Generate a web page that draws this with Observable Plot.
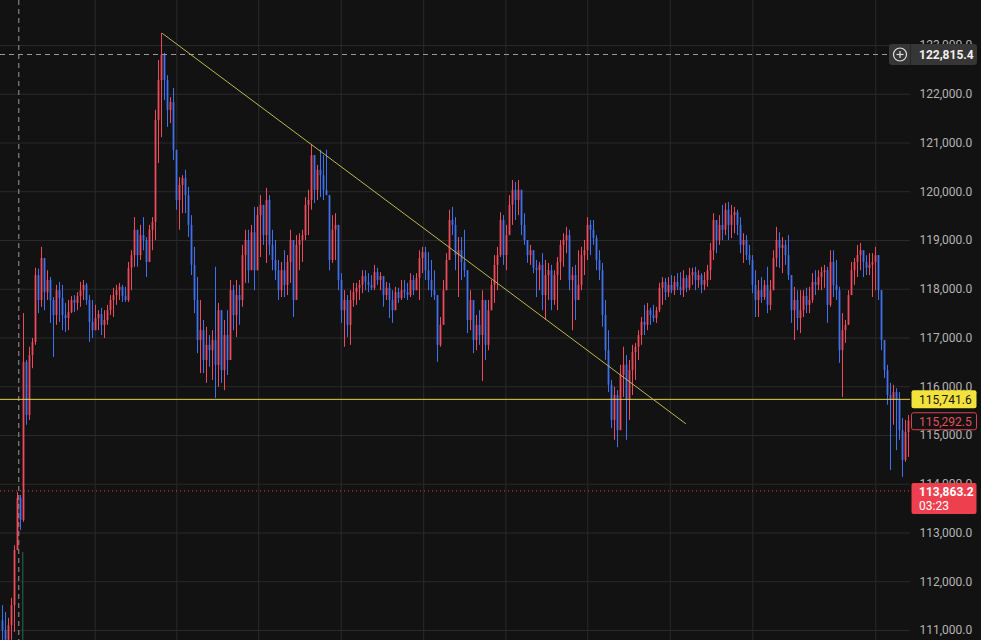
<!DOCTYPE html>
<html><head><meta charset="utf-8">
<script src="https://cdn.jsdelivr.net/npm/d3@7"></script>
<script src="https://cdn.jsdelivr.net/npm/@observablehq/plot@0.6"></script>
<style>html,body{margin:0;padding:0;background:#121212;overflow:hidden}</style>
</head><body><div id="chart"></div>
<script>
// ---- data (price bars, one per index) ----
const high = [
111510,111370,111250,111660,112740,113830,113770,117500,116540,116810,
116990,118430,118410,118860,118550,118380,118240,117830,118080,118140,
118080,117710,117770,117850,117870,117930,118140,118180,118120,117870,
117770,117670,117560,117610,117560,117670,117870,118020,118080,118120,
118080,118040,118550,118790,119470,119140,119310,119470,119060,119310,
119470,121670,122690,123250,122840,122380,121930,122120,120580,120290,
120330,120440,120090,119510,118860,118240,117770,117360,117220,117050,
117150,118450,117710,117560,117360,117560,118180,118080,118180,118080,
118900,119210,119210,119310,119680,119680,119920,119720,120070,119920,
119210,119000,118590,118550,118790,118690,119210,118730,119100,119140,
119210,119880,120030,120950,120740,120540,120850,120740,120850,119620,
119510,119550,119000,118320,117970,117870,117970,118120,118120,118180,
118380,118380,118320,118280,118490,118430,118340,118180,118140,118120,
117970,118040,118020,118180,118180,118120,118320,118280,118320,118790,
118860,118860,118750,118590,118380,117770,117420,118180,118730,119620,
119680,119470,119060,119060,119210,118180,117970,117560,117460,117560,
117970,117560,117770,118180,118690,118860,119570,119510,119310,119920,
120230,120190,120230,120030,119550,119000,118900,118650,118590,118550,
118730,118590,118530,118490,118380,118650,119000,119140,119270,119210,
118450,118490,118790,118860,119000,119470,119410,119410,119100,118790,
118530,117770,117150,116130,115990,115920,116440,116810,116640,116540,
116850,116890,117150,117420,117670,117710,117610,117670,117630,118120,
118240,118220,118240,118280,118260,118320,118340,118380,118280,118430,
118430,118450,118380,118320,118340,118490,118940,119550,119410,119510,
119720,119760,119780,119720,119680,119620,119470,119140,119100,118900,
118690,118380,118180,118240,118180,118450,118180,118790,119270,119160,
119060,119000,119100,118120,118040,117970,117970,117970,118020,118040,
118320,118380,118380,118450,118490,118450,118790,118790,118590,118040,
117500,117360,117970,118550,118630,118900,118940,118730,118690,118730,
118730,118860,118690,117970,116950,116440,116070,116030,115960,115880,
115350,115310,115410];
const low = [
110690,110690,110690,110800,110960,112950,113050,113220,115210,115310,
116370,116850,117500,117630,117560,117770,117300,116600,117260,117320,
117150,117110,117150,117500,117520,117560,117630,117770,117670,116910,
116990,117150,117150,117050,116990,117260,117460,117420,117670,117770,
117730,117730,117730,117970,118450,118450,118590,118790,118240,118550,
118790,119000,120580,121110,121870,121320,121400,120640,119620,119210,
119550,119550,119060,118280,117500,116680,116270,116270,116070,116400,
116130,115760,115990,116070,115920,116230,116950,117150,117010,117260,
117630,118120,118120,118380,117970,118490,118650,118900,118530,118690,
118380,118180,117770,117830,117830,117870,118120,117420,117970,118380,
118550,119000,119100,119620,119760,119820,119880,119820,119920,118380,
118530,118590,117970,117300,116810,117010,116850,117630,117670,117770,
117910,117970,117930,117970,117970,118080,117970,117630,117770,117400,
117300,117710,117710,117770,117810,117770,117830,117870,117970,117770,
118320,118180,117970,117830,117770,116500,116810,117300,118180,118860,
119100,118380,117830,118180,118240,117090,117150,116680,116740,116850,
116110,116540,116740,117630,117710,117970,118650,118490,118380,119100,
119310,119410,119510,119100,118900,118530,118490,118320,117830,117970,
117560,117360,117770,117560,117670,117560,118180,118450,118730,117970,
117150,117360,117830,117970,118280,118590,118690,118900,118380,118180,
117220,116540,115880,115140,114900,114750,115100,115780,114900,115310,
115820,116130,116540,116850,117050,117150,117260,117320,117300,117520,
117670,117770,117830,117910,117870,117970,117870,117830,117930,117970,
118080,117970,118020,117910,117970,118040,118180,118590,118730,118900,
119000,119100,119000,119040,119140,119100,118730,118530,118590,118490,
117910,117420,117420,117710,117770,117500,117560,118040,118450,118430,
118320,118490,118180,117300,116950,117150,117090,117420,117500,117500,
117710,117870,117970,117970,118020,117300,117630,117830,117770,116480,
115780,116890,117420,117970,118080,118240,118380,118240,118280,118280,
117830,117970,117770,116740,116170,115620,114280,115210,114690,114900,
114140,114450,114550];
const close = [
111000,110800,111100,111510,112640,113710,113260,116500,115410,116640,
116910,118280,117770,118630,117930,118180,117770,117460,117970,117810,
117460,117400,117520,117770,117710,117850,117970,118080,117770,117320,
117150,117400,117480,117260,117360,117560,117770,117870,117970,118040,
117850,117770,118430,118690,119210,118690,119100,119000,118550,119210,
119370,121460,122280,122800,122280,121670,121830,120850,119820,120130,
120270,119920,119310,118490,117770,116950,117150,116540,116850,116740,
116950,116440,117560,116330,117050,116540,117970,117460,117870,117770,
118690,119000,118380,119160,118380,119510,119720,119100,119820,118900,
118590,118380,117970,118380,118080,118550,119000,117770,118900,119000,
119100,119720,119820,120740,120030,120440,120330,120030,119920,118590,
119210,119310,118180,117560,117770,117260,117770,117930,118020,118080,
118260,118140,118080,118020,118340,118180,118260,117870,118020,117770,
117560,117930,117810,117970,117930,117870,118180,117970,118220,118630,
118750,118380,118180,117970,117870,116850,117260,117970,118590,119410,
119310,118690,118790,118550,118380,117360,117770,116950,117260,117050,
117770,116850,117560,118080,118490,118690,119410,118690,119100,119720,
120030,119820,120030,119310,119000,118690,118790,118430,118380,118490,
117870,118280,118380,117770,118280,118550,118900,119000,119100,118180,
118280,117770,118080,118690,118790,119310,119210,119040,118590,118380,
117460,116740,116030,115310,115820,115100,116230,116440,115720,116330,
116700,116810,117050,117320,117260,117560,117460,117400,117560,118020,
118140,117930,118080,117970,118140,118040,117970,118220,118020,118280,
118340,118180,118280,118080,118180,118380,118790,119410,119000,119310,
119210,119620,119310,119510,119570,119310,118900,119000,118690,118590,
118080,117770,117970,117830,118080,117670,117970,118630,119000,118840,
118900,118690,118280,117560,117770,117400,117560,117850,117670,117770,
118140,118080,118240,118340,118380,117670,118550,118080,117970,116740,
117150,117260,117870,118380,118550,118690,118790,118550,118430,118490,
118550,118690,117970,116950,116330,115820,115720,115880,115720,115100,
114490,115060,115292.5];
const firstOpen = 111200;

// price axis ticks and time grid (bar index)
const priceTicks = [111000,112000,113000,114000,115000,116000,117000,118000,119000,120000,121000,122000,123000];
const timeTicks = [30.9, 58.1, 85.4, 112.9, 140.4, 167.8, 195.1, 222.6, 250.1, 291.1];

// drawings / levels
const trend = [{i: 53.33, p: 123246}, {i: 227.67, p: 115246}];
const levelPrice = 115741.6;
const crossPrice = 122815.4;
const crossBar = 5.43;
const lastPrice = 113863.2;
const countdown = "03:23";
const markPrice = 115292.5;
const volBar = {i: 6.77, top: 112600};

const RED = "#ef4a5c", BLUE = "#4170ee";
const candles = close.map((c, i) => {
  const o = i === 0 ? firstOpen : close[i - 1];
  return {i, open: o, close: c,
    hi: Math.max(high[i], o, c), lo: Math.min(low[i], o, c), up: c >= o};
});
const ups = candles.filter(d => d.up), downs = candles.filter(d => !d.up);
const yDomain = [110795, 123923];

const chart = Plot.plot({
  width: 981, height: 640,
  marginLeft: 0, marginRight: 71, marginTop: 0, marginBottom: 0,
  style: {background: "#121212", color: "#b4b4b4", fontFamily: "Roboto, 'Noto Sans', sans-serif", fontSize: "12px"},
  x: {domain: [-2/3, 302 + 2/3], axis: null},
  y: {domain: yDomain},
  marks: [
    Plot.gridY(priceTicks, {stroke: "#2a2a2a", strokeOpacity: 1}),
    Plot.gridX(timeTicks, {stroke: "#2a2a2a", strokeOpacity: 1}),
    Plot.ruleX([volBar], {x: "i", y1: "top", y2: yDomain[0], stroke: "#1f6b5c", strokeWidth: 1}),
    Plot.ruleX([crossBar], {stroke: "#9a9a9a", strokeDasharray: "5,4", strokeWidth: 1}),
    Plot.ruleX(ups, {x: "i", y1: "lo", y2: "hi", stroke: RED, strokeWidth: 1}),
    Plot.ruleX(downs, {x: "i", y1: "lo", y2: "hi", stroke: BLUE, strokeWidth: 1}),
    Plot.ruleX(ups, {x: "i", y1: "open", y2: "close", stroke: RED, strokeWidth: 1.8}),
    Plot.ruleX(downs, {x: "i", y1: "open", y2: "close", stroke: BLUE, strokeWidth: 1.8}),
    Plot.ruleY([crossPrice], {stroke: "#9a9a9a", strokeDasharray: "5,4", strokeWidth: 1}),
    Plot.ruleY([lastPrice], {stroke: "#e5404f", strokeDasharray: "1,3", strokeWidth: 1}),
    Plot.ruleY([levelPrice], {stroke: "#e3d34c", strokeWidth: 1}),
    Plot.line(trend, {x: "i", y: "p", stroke: "#bdb84c", strokeWidth: 1}),
    Plot.axisY(priceTicks, {anchor: "right", tickSize: 0, tickPadding: 9, label: null,
      tickFormat: d3.format(",.1f"), fill: "#b4b4b4", fontSize: 12})
  ]
});
document.getElementById("chart").appendChild(chart);

// price-axis labels placed with the y scale
const ys = chart.scale("y");
const svg = d3.select(chart);
const g = svg.append("g").attr("font-family", "Roboto, 'Noto Sans', sans-serif")
  .attr("font-size", 12).attr("text-anchor", "start");
function box(price, dy0, h, fill, stroke) {
  const y = ys.apply(price);
  g.append("rect").attr("x", 911.5).attr("y", y + dy0).attr("width", 65).attr("height", h)
    .attr("rx", 2).attr("fill", fill).attr("stroke", stroke || "none");
  return y;
}
function label(y, text, fill, weight) {
  g.append("text").attr("x", 919).attr("y", y).attr("dy", "0.36em").attr("fill", fill)
    .attr("text-anchor", "start").attr("font-weight", weight || 400).text(text);
}
// crosshair label
{
  const y = ys.apply(crossPrice);
  g.append("rect").attr("x", 889).attr("y", y - 10).attr("width", 88).attr("height", 21).attr("rx", 3).attr("fill", "#363636");
  g.append("line").attr("x1", 910.5).attr("x2", 910.5).attr("y1", y - 10).attr("y2", y + 11).attr("stroke", "#262626");
  g.append("circle").attr("cx", 900).attr("cy", y + 0.5).attr("r", 6.5).attr("fill", "none").attr("stroke", "#e0e0e0").attr("stroke-width", 1.2);
  g.append("line").attr("x1", 896.5).attr("x2", 903.5).attr("y1", y + 0.5).attr("y2", y + 0.5).attr("stroke", "#e0e0e0").attr("stroke-width", 1.2);
  g.append("line").attr("x1", 900).attr("x2", 900).attr("y1", y - 3).attr("y2", y + 4).attr("stroke", "#e0e0e0").attr("stroke-width", 1.2);
  label(y + 0.5, d3.format(",.1f")(crossPrice), "#f0f0f0", 700);
}
// horizontal level label
{
  const y = box(levelPrice, -8.5, 18, "#f3e23c");
  label(y + 0.5, d3.format(",.1f")(levelPrice), "#151515", 400);
}
// mark price label
{
  const y = box(markPrice, -8, 17, "#121212", "#d8404e");
  label(y + 0.5, d3.format(",.1f")(markPrice), "#e2505e", 400);
}
// last price + countdown
{
  const y = box(lastPrice, -7.5, 31, "#ee3f4f");
  label(y + 1, d3.format(",.1f")(lastPrice), "#ffffff", 700);
  label(y + 15, countdown, "#ffffff", 400);
}
</script>
</body></html>
